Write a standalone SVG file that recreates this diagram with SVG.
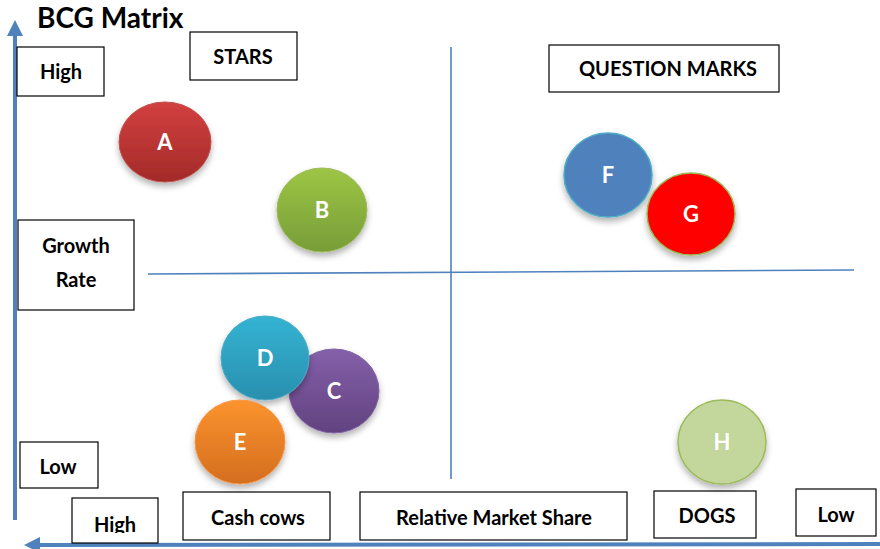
<svg xmlns="http://www.w3.org/2000/svg" width="880" height="549" viewBox="0 0 880 549">
<style>
.box{fill:#fff;stroke:#000;stroke-width:1.2}
.lbl{font-family:Lato,"Open Sans","Liberation Sans",sans-serif;font-weight:bold;font-size:20px;fill:#000;text-anchor:middle}
.ltr{font-family:Lato,"Open Sans","Liberation Sans",sans-serif;font-weight:bold;font-size:22px;fill:#fff;text-anchor:middle}
.axis{stroke:#4F81BD;stroke-width:4;fill:none}
.quad{stroke:#4F81BD;stroke-width:1.6;fill:none}
</style>
<defs>
<filter id="sh" x="-30%" y="-30%" width="160%" height="170%">
<feDropShadow dx="0" dy="4" stdDeviation="3" flood-color="#000" flood-opacity="0.3"/>
</filter>
<linearGradient id="gA" x1="0" y1="0" x2="0" y2="1"><stop offset="0" stop-color="#D24040"/><stop offset="1" stop-color="#A32A28"/></linearGradient>
<linearGradient id="gB" x1="0" y1="0" x2="0" y2="1"><stop offset="0" stop-color="#9DC645"/><stop offset="1" stop-color="#779D38"/></linearGradient>
<linearGradient id="gC" x1="0" y1="0" x2="0" y2="1"><stop offset="0" stop-color="#8460AA"/><stop offset="1" stop-color="#62427F"/></linearGradient>
<linearGradient id="gD" x1="0" y1="0" x2="0" y2="1"><stop offset="0" stop-color="#34B3D3"/><stop offset="1" stop-color="#2A8FAE"/></linearGradient>
<linearGradient id="gE" x1="0" y1="0" x2="0" y2="1"><stop offset="0" stop-color="#FB932E"/><stop offset="1" stop-color="#D46E1F"/></linearGradient>
<marker id="ah" viewBox="0 0 10 10" refX="5" refY="5" markerWidth="4" markerHeight="4" orient="auto-start-reverse" markerUnits="strokeWidth">
<path d="M0,0 L10,5 L0,10 z" fill="#4F81BD"/>
</marker>
<clipPath id="clipHigh"><rect x="72" y="498" width="87" height="35"/></clipPath>
</defs>

<g id="title"><text x="37" y="28" font-family="Lato,'Open Sans','Liberation Sans',sans-serif" font-weight="bold" font-size="28" fill="#000">BCG Matrix</text></g>

<g id="connectors">
<line class="axis" x1="15" y1="520" x2="15" y2="28" marker-end="url(#ah)"/>
<line class="axis" x1="880" y1="544" x2="32" y2="545" marker-end="url(#ah)"/>
<line class="quad" x1="451" y1="47" x2="451" y2="479"/>
<line class="quad" x1="148" y1="274" x2="854" y2="270"/>
</g>

<g id="high-y"><rect class="box" x="17" y="47" width="87" height="49"/><text class="lbl" x="61" y="79">High</text></g>
<g id="stars"><rect class="box" x="190" y="32" width="107" height="48"/><text class="lbl" x="243" y="64">STARS</text></g>
<g id="question-marks"><rect class="box" x="549" y="45" width="230" height="47"/><text class="lbl" x="668" y="76">QUESTION MARKS</text></g>
<g id="growth-rate"><rect class="box" x="18" y="220" width="116" height="90"/><text class="lbl" x="76" y="253">Growth</text><text class="lbl" x="76" y="287">Rate</text></g>
<g id="low-y"><rect class="box" x="20" y="442" width="78" height="46"/><text class="lbl" x="58" y="474">Low</text></g>
<g id="high-x"><rect class="box" x="72" y="498" width="86" height="45"/><text class="lbl" x="115" y="532" clip-path="url(#clipHigh)">High</text></g>
<g id="cash-cows"><rect class="box" x="183" y="492" width="147" height="48"/><text class="lbl" x="258" y="525">Cash cows</text></g>
<g id="rms"><rect class="box" x="360" y="492" width="267" height="48"/><text class="lbl" x="494" y="525">Relative Market Share</text></g>
<g id="dogs"><rect class="box" x="654" y="491" width="102" height="47"/><text class="lbl" x="707" y="523">DOGS</text></g>
<g id="low-x"><rect class="box" x="796" y="489" width="80" height="47"/><text class="lbl" x="836" y="522">Low</text></g>

<g id="A"><ellipse cx="165" cy="142" rx="46" ry="40" fill="url(#gA)" stroke="#C0504D" stroke-width="1" filter="url(#sh)"/><text class="ltr" x="165" y="150">A</text></g>
<g id="B"><ellipse cx="322" cy="210" rx="45" ry="42" fill="url(#gB)" stroke="#9BBB59" stroke-width="1" filter="url(#sh)"/><text class="ltr" x="322" y="218">B</text></g>
<g id="F"><ellipse cx="608" cy="175" rx="44" ry="42" fill="#4F81BD" stroke="#4BACC6" stroke-width="1.5" filter="url(#sh)"/><text class="ltr" x="608" y="183">F</text></g>
<g id="G"><ellipse cx="691" cy="214" rx="44" ry="41" fill="#FF0000" stroke="#9BBB59" stroke-width="1.5" filter="url(#sh)"/><text class="ltr" x="691" y="222">G</text></g>
<g id="C"><ellipse cx="334" cy="391" rx="45" ry="42" fill="url(#gC)" stroke="#8064A2" stroke-width="1" filter="url(#sh)"/><text class="ltr" x="334" y="399">C</text></g>
<g id="D"><ellipse cx="265" cy="358" rx="44" ry="42" fill="url(#gD)" stroke="#4BACC6" stroke-width="1" filter="url(#sh)"/><text class="ltr" x="265" y="366">D</text></g>
<g id="E"><ellipse cx="240" cy="442" rx="45" ry="42" fill="url(#gE)" stroke="#F79646" stroke-width="1" filter="url(#sh)"/><text class="ltr" x="240" y="450">E</text></g>
<g id="H"><ellipse cx="722" cy="442" rx="44" ry="42" fill="#C3D69B" stroke="#9BBB59" stroke-width="1.5" filter="url(#sh)"/><text class="ltr" x="722" y="450">H</text></g>
</svg>
